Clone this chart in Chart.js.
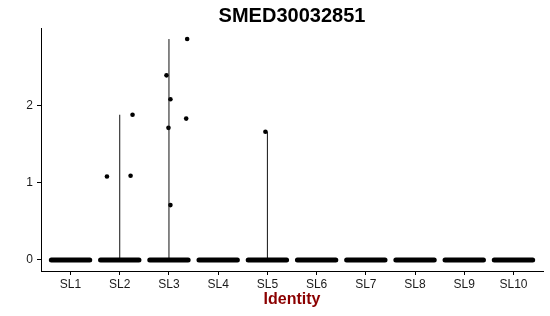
<!DOCTYPE html>
<html>
<head>
<meta charset="utf-8">
<script src="https://cdn.jsdelivr.net/npm/chart.js@4"></script>
<style>
  html, body { margin: 0; padding: 0; background: #fff; }
  #wrap { width: 550px; height: 316px; }
</style>
</head>
<body>
<div id="wrap"><canvas id="vln" width="550" height="316"></canvas></div>
<script>
// categories along the x axis
const categories = ['SL1', 'SL2', 'SL3', 'SL4', 'SL5', 'SL6', 'SL7', 'SL8', 'SL9', 'SL10'];
const yTicks = [0, 1, 2];

// non-zero cells (everything else sits at 0)
const pointCategory = [2, 2, 2, 3, 3, 3, 3, 3, 3, 5];
const pointOffset   = [-0.26, 0.22, 0.26, 0.37, -0.05, 0.03, 0.35, -0.01, 0.03, -0.04];
const pointValue    = [1.08, 1.09, 1.88, 2.86, 2.39, 2.08, 1.83, 1.71, 0.71, 1.66];

const jitter = 0.39;

const datasets = [];

// bands of zero-valued cells
categories.forEach((c, i) => {
    const x = i + 1;
    datasets.push({
        type: 'line',
        data: [{ x: x - jitter, y: 0 }, { x: x + jitter, y: 0 }],
        borderColor: '#000',
        borderWidth: 5,
        borderCapStyle: 'round',
        pointRadius: 0
    });
});

// violin outlines (collapse to a thin stem since most values are zero)
categories.forEach((c, i) => {
    const x = i + 1;
    const vals = pointValue.filter((v, k) => pointCategory[k] === x);
    if (!vals.length) return;
    datasets.push({
        type: 'line',
        data: [{ x: x, y: 0 }, { x: x, y: Math.max(...vals) }],
        borderColor: '#111',
        borderWidth: 1,
        pointRadius: 0
    });
});

// jittered points
datasets.push({
    type: 'scatter',
    data: pointValue.map((v, k) => ({ x: pointCategory[k] + pointOffset[k], y: v })),
    backgroundColor: '#000',
    borderColor: '#000',
    pointRadius: 2.3,
    borderWidth: 0
});

new Chart(document.getElementById('vln'), {
    type: 'scatter',
    data: { datasets },
    options: {
        responsive: false,
        animation: false,
        layout: { padding: { left: 0, right: 7, top: 0, bottom: 0 } },
        plugins: {
            legend: { display: false },
            tooltip: { enabled: false },
            title: {
                display: true,
                text: 'SMED30032851',
                fullSize: false,
                color: '#000',
                font: { family: 'Liberation Sans, Arial', size: 20, weight: 'bold', lineHeight: 1.2 },
                padding: { top: 4, bottom: 0 }
            }
        },
        scales: {
            x: {
                type: 'linear',
                min: 0.4,
                max: categories.length + 0.6,
                afterBuildTicks: s => { s.ticks = categories.map((c, i) => ({ value: i + 1 })); },
                afterFit: s => { s.height = 45; },
                ticks: {
                    callback: v => categories[v - 1],
                    color: '#1a1a1a',
                    font: { family: 'Liberation Sans, Arial', size: 12 },
                    padding: 2,
                    autoSkip: false,
                    maxRotation: 0
                },
                grid: { drawOnChartArea: false, tickLength: 4, color: '#000', tickWidth: 1 },
                border: { color: '#000', width: 1 },
                title: {
                    display: true,
                    text: 'Identity',
                    color: '#8b0000',
                    font: { family: 'Liberation Sans, Arial', size: 16, weight: 'bold' },
                    padding: { top: 0, bottom: 7 }
                }
            },
            y: {
                min: -0.143,
                max: 3.003,
                afterBuildTicks: s => { s.ticks = yTicks.map(v => ({ value: v })); },
                afterFit: s => { s.width = 41; },
                ticks: {
                    color: '#1a1a1a',
                    font: { family: 'Liberation Sans, Arial', size: 12 },
                    padding: 4
                },
                grid: { drawOnChartArea: false, tickLength: 4, color: '#000', tickWidth: 1 },
                border: { color: '#000', width: 1 }
            }
        }
    }
});
</script>
</body>
</html>
